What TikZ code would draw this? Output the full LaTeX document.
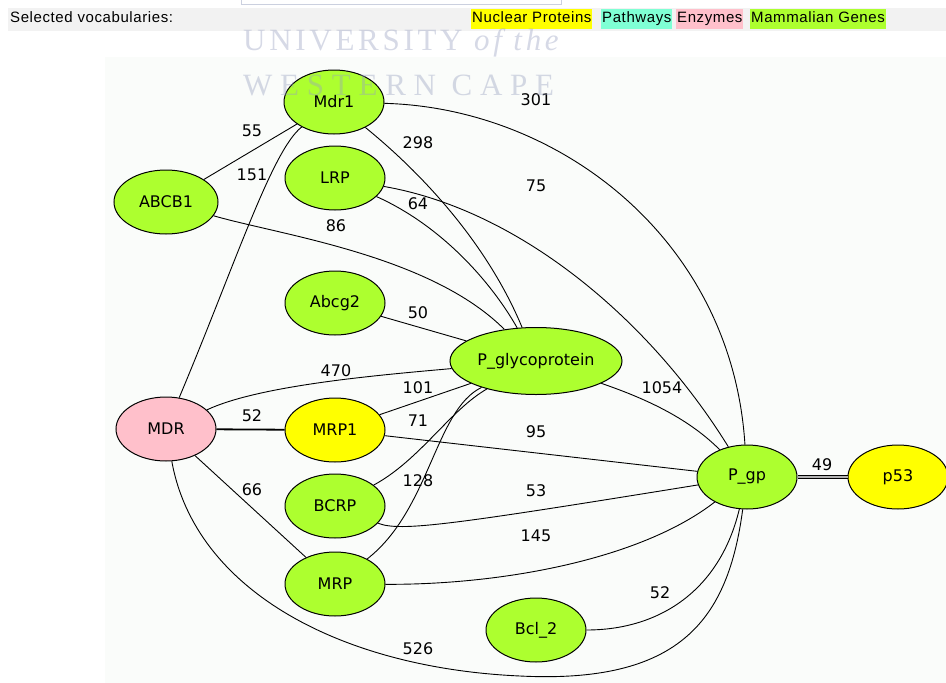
\documentclass[tikz,border=0pt]{standalone}
\usepackage{fontspec}
\setmainfont{DejaVu Sans}
\newfontfamily\hdrfont[LetterSpace=4]{Liberation Sans}
\newfontfamily\wmfont[LetterSpace=12]{Liberation Serif}
\newfontfamily\wmwidefont[LetterSpace=25]{Liberation Serif}
\usepackage{tikz}
\usetikzlibrary{shapes.geometric}
\definecolor{gene}{HTML}{ADFF2F}
\definecolor{nuclear}{HTML}{FFFF00}
\definecolor{enzyme}{HTML}{FFC0CB}
\definecolor{pathway}{HTML}{7FFFD4}
\definecolor{graphbg}{HTML}{FAFCFA}
\definecolor{barbg}{HTML}{F2F2F2}
\definecolor{wmark}{HTML}{98A0C0}
\begin{document}
\begin{tikzpicture}[x=1pt,y=-1pt,
  term/.style={ellipse,draw,line width=1pt,inner sep=0pt,minimum width=100pt,minimum height=64pt,font=\fontsize{16}{16}\selectfont},
  wt/.style={font=\fontsize{16}{16}\selectfont,inner sep=0pt},
  link/.style={line width=0.9pt},
  stamp/.style={anchor=base west,inner sep=0pt,text=wmark,text opacity=0.4},
  vocab/.style={anchor=west,inner sep=1pt,text height=11pt,text depth=4pt,minimum height=20pt,font=\hdrfont\fontsize{15}{15}\selectfont}]
\useasboundingbox (0,0) rectangle (946,683);
\fill[graphbg] (105,57) rectangle (946,683);
\fill[barbg] (8,8) rectangle (946,31);
\draw[wmark!50,fill=white] (241,-3) rectangle (561,4);
\node[vocab,inner sep=0pt] (sel) at (10,19) {Selected vocabularies:};
\node[vocab,fill=nuclear] (vnuc) at (471,19) {Nuclear Proteins};
\node[vocab,fill=pathway] (vpath) at (601,19) {Pathways};
\node[vocab,fill=enzyme] (venz) at (676,19) {Enzymes};
\node[vocab,fill=gene] (vgene) at (750,19) {Mammalian Genes};

\node[term,fill=gene] (Mdr1) at (334,102) {Mdr1};
\node[term,fill=gene] (LRP) at (335,178) {LRP};
\node[term,fill=gene,minimum width=104pt] (ABCB1) at (166,202) {ABCB1};
\node[term,fill=gene] (Abcg2) at (335,303) {Abcg2};
\node[term,fill=gene,minimum width=172pt,minimum height=67pt] (Pglyco) at (536,361) {P\_glycoprotein};
\node[term,fill=enzyme] (MDR) at (166,429) {MDR};
\node[term,fill=nuclear] (MRP1) at (335,430) {MRP1};
\node[term,fill=gene] (BCRP) at (335,506) {BCRP};
\node[term,fill=gene] (MRP) at (335,584) {MRP};
\node[term,fill=gene] (Bcl2) at (536,630) {Bcl\_2};
\node[term,fill=gene] (Pgp) at (747,477) {P\_gp};
\node[term,fill=nuclear] (p53) at (898,477) {p53};

\draw[link] (ABCB1) -- (Mdr1) node[wt] at (252,131) {55};
\draw[link] (MDR) .. controls (235,265) and (272,150) .. (Mdr1) node[wt] at (252,175) {151};
\draw[link] (Mdr1) .. controls (560,108) and (732,240) .. (Pgp) node[wt] at (536,100) {301};
\draw[link] (Mdr1) .. controls (430,180) and (490,250) .. (Pglyco) node[wt] at (418,143) {298};
\draw[link] (LRP) .. controls (520,210) and (650,320) .. (Pgp) node[wt] at (536,186) {75};
\draw[link] (LRP) .. controls (440,225) and (490,280) .. (Pglyco) node[wt] at (418,204) {64};
\draw[link] (ABCB1) .. controls (280,235) and (430,255) .. (Pglyco) node[wt] at (336,226) {86};
\draw[link] (Abcg2) -- (Pglyco) node[wt] at (418,313) {50};
\draw[link] (MDR) .. controls (260,385) and (380,375) .. (Pglyco) node[wt] at (336,371) {470};
\draw[line width=1.8pt] (MDR) -- (MRP1) node[wt] at (252,416) {52};
\draw[link] (MRP1) -- (Pglyco) node[wt] at (418,388) {101};
\draw[link] (MRP1) -- (Pgp) node[wt] at (536,432) {95};
\draw[link] (BCRP) .. controls (420,460) and (450,410) .. (Pglyco) node[wt] at (418,421) {71};
\draw[link] (MRP) .. controls (430,510) and (435,410) .. (Pglyco) node[wt] at (418,481) {128};
\draw[link] (MDR) -- (MRP) node[wt] at (252,490) {66};
\draw[link] (BCRP) .. controls (400,532) and (450,525) .. (Pgp) node[wt] at (536,491) {53};
\draw[link] (MRP) .. controls (500,585) and (640,560) .. (Pgp) node[wt] at (536,536) {145};
\draw[link] (Bcl2) .. controls (660,630) and (720,590) .. (Pgp) node[wt] at (660,593) {52};
\draw[link] (MDR) .. controls (195,590) and (340,668) .. (520,676) .. controls (680,684) and (728,620) .. (Pgp) node[wt] at (418,649) {526};
\draw[link] (Pglyco) .. controls (650,400) and (690,420) .. (Pgp) node[wt] at (662,388) {1054};
\draw[line width=0.6pt,double=gray!60,double distance=2pt] (Pgp) -- (p53) node[wt] at (822,465) {49};

\node[stamp,font=\wmfont\fontsize{31}{31}\selectfont] (uni) at (243,50) {UNIVERSITY \textit{of the}};
\node[stamp,font=\wmwidefont\fontsize{31}{31}\selectfont] (cape) at (243,95) {WESTERN CAPE};
\end{tikzpicture}
\end{document}
